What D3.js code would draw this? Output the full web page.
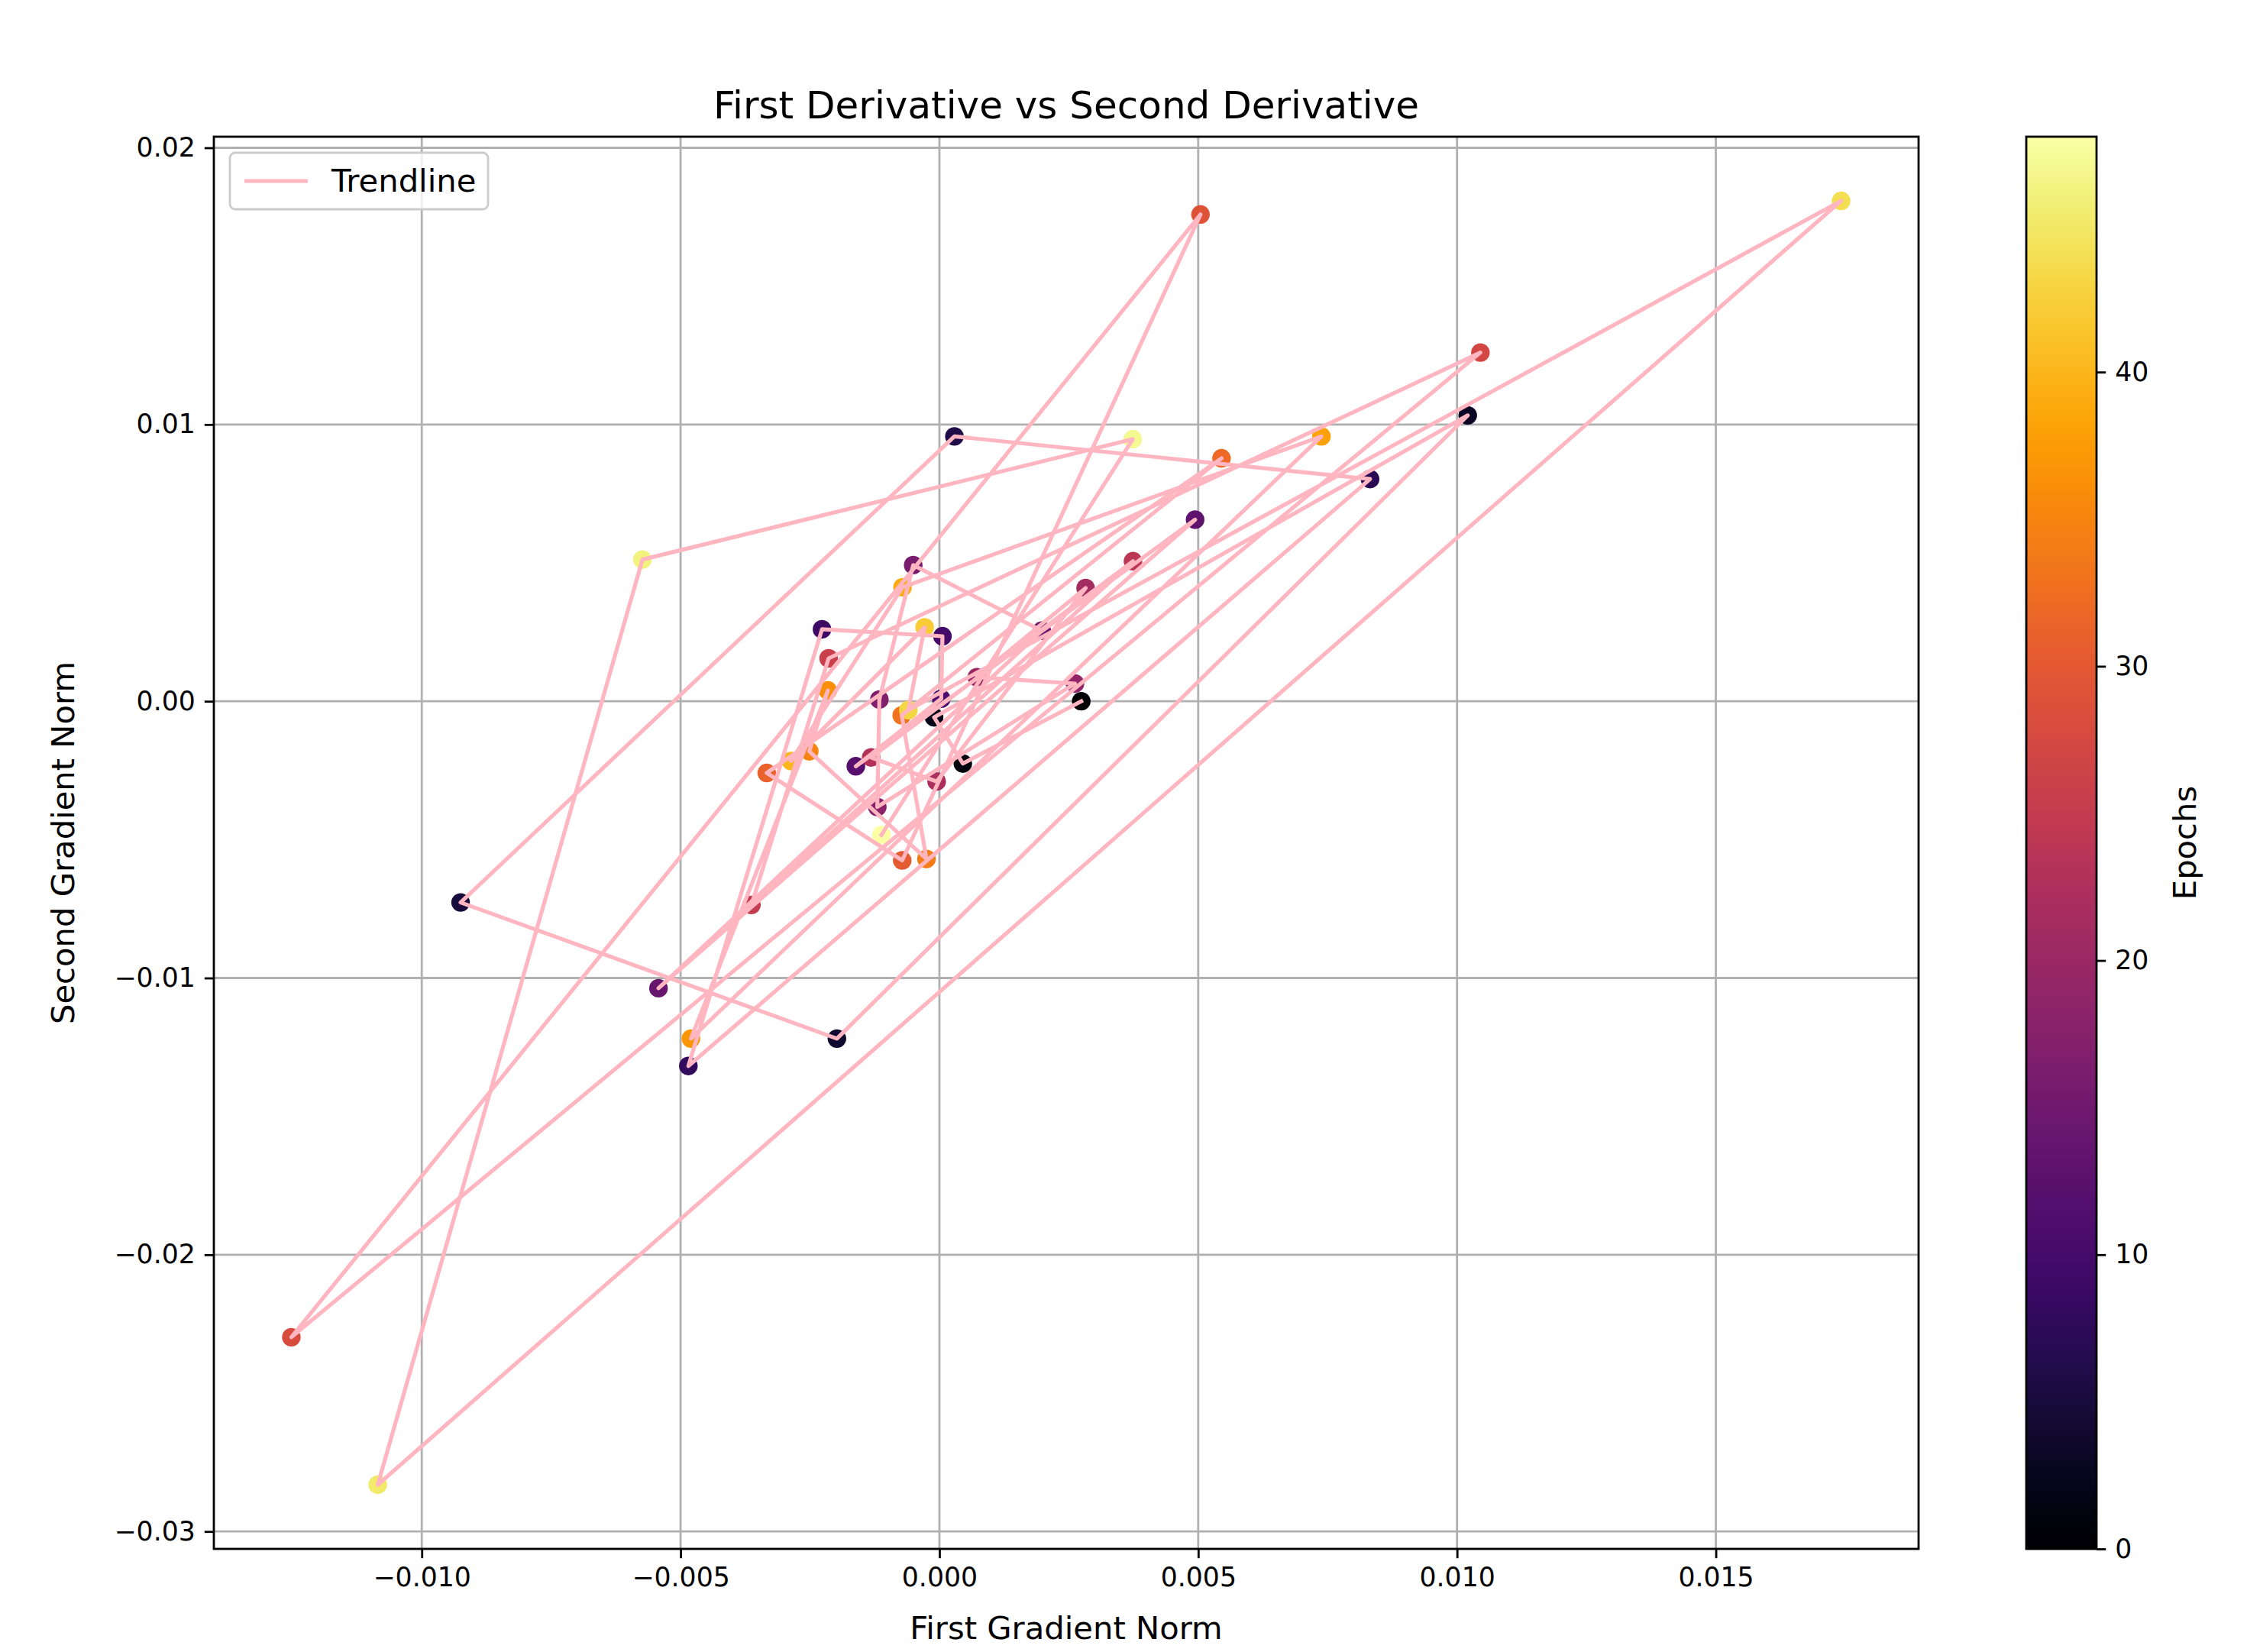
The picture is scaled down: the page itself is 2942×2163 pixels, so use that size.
<!DOCTYPE html>
<html>
<head>
<meta charset="utf-8">
<script src="https://cdn.jsdelivr.net/npm/d3@7"></script>
<style>
  html, body { margin: 0; padding: 0; background: #ffffff; }
  svg { display: block; }
  text { font-family: "DejaVu Sans", sans-serif; fill: #000; }
</style>
</head>
<body>
<script>
// ---- Data ----
const epochs = [0,1,2,3,4,5,6,7,8,9,10,11,12,13,14,15,16,17,18,19,20,21,22,23,24,25,26,27,28,29,30,31,32,33,34,35,36,37,38,39,40,42,43,44,45,46,47,48];
const firstGrad = [0.00274,0.000453,-0.000103,0.010207,-0.00198,-0.00925,0.00029,0.00832,-0.00485,-0.002268,0.000059,0.000035,-0.001614,0.00494,-0.005427,0.001978,-0.000506,-0.00116,-0.0012,0.002619,0.000723,0.002825,-0.000053,-0.001318,0.00374,-0.003632,-0.00214,0.010452,-0.01252,0.005044,-0.000718,-0.003336,0.00545,-0.000728,-0.00025,-0.002514,-0.002155,-0.0048,0.00738,-0.000713,-0.002868,-0.000285,-0.0006,0.01742,-0.01085,-0.005737,0.003735,-0.00112];
const secondGrad = [0.0,-0.00225,-0.00058,0.01033,-0.01219,-0.00727,0.00957,0.00803,-0.01318,0.0026,0.00235,0.00009,-0.00235,0.00656,-0.01037,0.00255,0.00492,0.00006,-0.00382,0.00064,0.00087,0.00409,-0.0029,-0.00203,0.00506,-0.00736,0.00155,0.0126,-0.02298,0.01759,-0.00575,-0.00259,0.00878,-0.00051,-0.0057,-0.00181,0.00039,-0.01219,0.00957,0.00412,-0.00216,0.00267,-0.00032,0.01808,-0.02831,0.00512,0.00947,-0.00483];
const xTicks = [-0.010,-0.005,0.000,0.005,0.010,0.015];
const yTicks = [-0.03,-0.02,-0.01,0.00,0.01,0.02];
const cbTicks = [0,10,20,30,40];
const epochMax = 48;

const W = 2942, H = 2163;
const plot = {left: 280, right: 2512, top: 179, bottom: 2028};
const cb = {left: 2653, right: 2745, top: 179, bottom: 2028};

const fmtMinus = s => s.replace("-", "\u2212");

const svg = d3.select("body").append("svg").attr("width", W).attr("height", H);

const pts = epochs.map((e, i) => ({e, x: firstGrad[i], y: secondGrad[i]}));

function padded(ext) { const s = ext[1] - ext[0]; return [ext[0] - 0.05 * s, ext[1] + 0.05 * s]; }
const x = d3.scaleLinear().domain(padded(d3.extent(firstGrad))).range([plot.left, plot.right]);
const y = d3.scaleLinear().domain(padded(d3.extent(secondGrad))).range([plot.bottom, plot.top]);
const color = d3.scaleSequential(d3.interpolateInferno).domain([0, epochMax]);

// grid
const g = svg.append("g");
g.selectAll(".gx").data(xTicks).join("line")
  .attr("x1", d => x(d)).attr("x2", d => x(d)).attr("y1", plot.top).attr("y2", plot.bottom)
  .attr("stroke", "#b0b0b0").attr("stroke-width", 2.8);
g.selectAll(".gy").data(yTicks).join("line")
  .attr("y1", d => y(d)).attr("y2", d => y(d)).attr("x1", plot.left).attr("x2", plot.right)
  .attr("stroke", "#b0b0b0").attr("stroke-width", 2.8);

// points
svg.append("g").selectAll("circle").data(pts).join("circle")
  .attr("cx", d => x(d.x)).attr("cy", d => y(d.y)).attr("r", 12.2)
  .attr("fill", d => color(d.e));

// trend line (connect in epoch order)
const line = d3.line().x(d => x(d.x)).y(d => y(d.y));
svg.append("path").datum(pts).attr("d", line)
  .attr("fill", "none").attr("stroke", "#ffb6c1").attr("stroke-width", 5.2)
  .attr("stroke-linejoin", "round").attr("stroke-linecap", "square");

// axes
const xAxis = d3.axisBottom(x).tickValues(xTicks).tickFormat(d => fmtMinus(d3.format(".3f")(d))).tickSize(12.2).tickPadding(12);
const yAxis = d3.axisLeft(y).tickValues(yTicks).tickFormat(d => fmtMinus(d3.format(".2f")(d))).tickSize(12.2).tickPadding(12);
const gx = svg.append("g").attr("transform", `translate(0,${plot.bottom})`).call(xAxis);
const gy = svg.append("g").attr("transform", `translate(${plot.left},0)`).call(yAxis);
[gx, gy].forEach(a => {
  a.select(".domain").remove();
  a.selectAll(".tick line").attr("stroke", "#000").attr("stroke-width", 2.8);
  a.selectAll(".tick text").attr("font-size", 34.7).attr("font-family", "DejaVu Sans");
});

// frame
svg.append("rect").attr("x", plot.left).attr("y", plot.top)
  .attr("width", plot.right - plot.left).attr("height", plot.bottom - plot.top)
  .attr("fill", "none").attr("stroke", "#000").attr("stroke-width", 2.8);

// title and labels
svg.append("text").attr("x", (plot.left + plot.right) / 2).attr("y", 155)
  .attr("text-anchor", "middle").attr("font-size", 50).text("First Derivative vs Second Derivative");
svg.append("text").attr("x", (plot.left + plot.right) / 2).attr("y", 2146)
  .attr("text-anchor", "middle").attr("font-size", 41.7).text("First Gradient Norm");
svg.append("text").attr("transform", `translate(97,${(plot.top + plot.bottom) / 2}) rotate(-90)`)
  .attr("text-anchor", "middle").attr("font-size", 41.7).text("Second Gradient Norm");

// legend
const lg = svg.append("g");
lg.append("rect").attr("x", 301).attr("y", 200).attr("width", 338).attr("height", 74).attr("rx", 7)
  .attr("fill", "#fff").attr("fill-opacity", 0.8).attr("stroke", "#cccccc").attr("stroke-width", 2.8);
lg.append("line").attr("x1", 320).attr("x2", 403).attr("y1", 237).attr("y2", 237)
  .attr("stroke", "#ffb6c1").attr("stroke-width", 5.2);
lg.append("text").attr("x", 434).attr("y", 251).attr("font-size", 41.7).text("Trendline");

// colorbar
const defs = svg.append("defs");
const grad = defs.append("linearGradient").attr("id", "cbgrad").attr("x1", 0).attr("y1", 1).attr("x2", 0).attr("y2", 0);
d3.range(0, 1.0001, 0.02).forEach(t => grad.append("stop").attr("offset", t).attr("stop-color", d3.interpolateInferno(t)));
svg.append("rect").attr("x", cb.left).attr("y", cb.top).attr("width", cb.right - cb.left).attr("height", cb.bottom - cb.top)
  .attr("fill", "url(#cbgrad)");
const cy = d3.scaleLinear().domain([0, epochMax]).range([cb.bottom, cb.top]);
const cbAxis = d3.axisRight(cy).tickValues(cbTicks).tickFormat(d3.format("d")).tickSize(12.2).tickPadding(12);
const gc = svg.append("g").attr("transform", `translate(${cb.right},0)`).call(cbAxis);
gc.select(".domain").remove();
gc.selectAll(".tick line").attr("stroke", "#000").attr("stroke-width", 2.8);
gc.selectAll(".tick text").attr("font-size", 34.7);
svg.append("rect").attr("x", cb.left).attr("y", cb.top).attr("width", cb.right - cb.left).attr("height", cb.bottom - cb.top)
  .attr("fill", "none").attr("stroke", "#000").attr("stroke-width", 2.8);
svg.append("text").attr("transform", `translate(2875,${(cb.top + cb.bottom) / 2}) rotate(-90)`)
  .attr("text-anchor", "middle").attr("font-size", 41.7).text("Epochs");
</script>
</body>
</html>
